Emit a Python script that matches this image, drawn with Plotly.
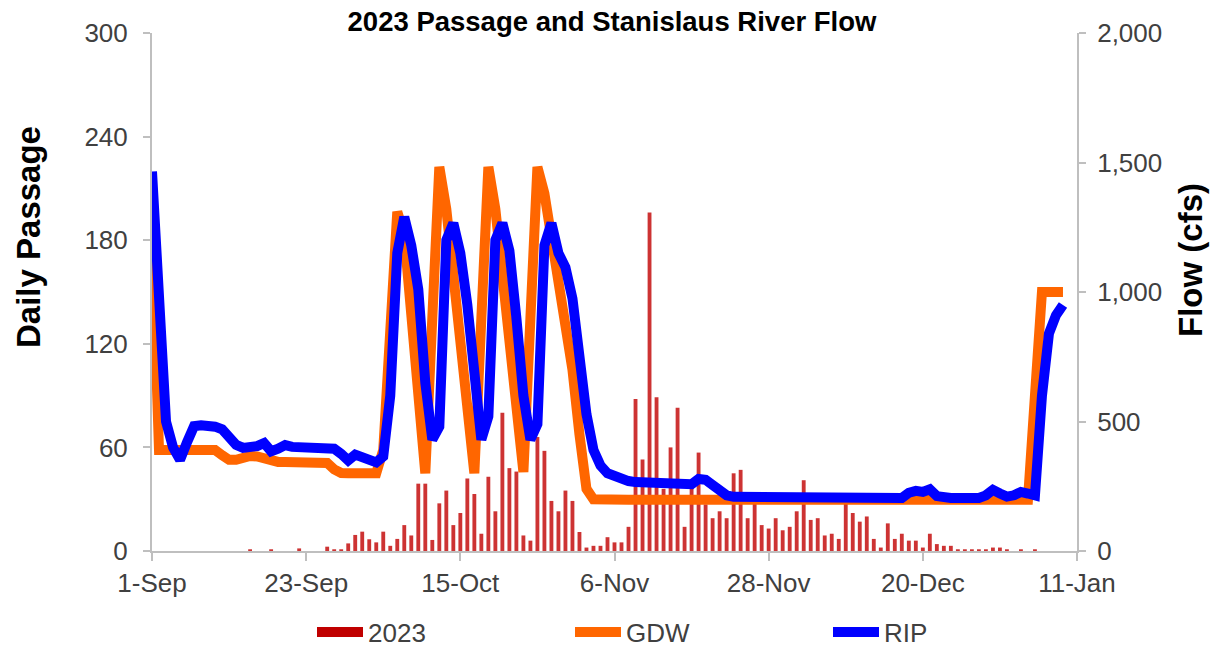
import pandas as pd
import plotly.graph_objects as go

# Daily fish passage (count per day) starting 1-Sep-2023
passage_2023 = [
    0, 0, 0, 0, 0, 0, 0, 0, 0, 0, 0, 0, 0, 0, 1, 0, 0, 1, 0, 0,
    0, 1.5, 0, 0, 0, 2.5, 1, 1, 4.4, 9.3, 11.2, 6.8, 5, 11.2, 3, 7, 15, 9, 39, 39,
    6.4, 27.6, 35, 15, 22, 42, 33, 10, 43, 23, 80, 48, 46, 9, 6, 66, 58, 29, 23, 35,
    29, 11, 2, 3, 3, 8, 5, 5, 14, 88, 53, 196, 89, 36, 60, 83, 14, 37, 57, 27,
    19, 23, 19, 45, 47, 19, 29, 15, 13, 19, 12, 14, 23, 41, 18, 19, 9, 10, 7, 28,
    22, 17, 20, 7, 2, 16, 7, 10, 6, 6, 2, 10, 4, 3, 3, 1, 1, 1, 1, 1,
    2, 2, 1, 0, 1, 0, 1, 0, 0, 0, 0, 0,
]

# Stanislaus River flow at Goodwin Dam (cfs)
gdw_flow = [
    1220, 390, 390, 390, 390, 390, 390, 390, 390, 390, 370, 352, 352, 360, 367, 365, 355, 345, 344, 344,
    344, 344, 344, 344, 344, 340, 315, 301, 300, 300, 300, 300, 300, 390, 850, 1310, 1220, 900, 520, 300,
    900, 1483, 1320, 1060, 780, 500, 300, 900, 1483, 1320, 1060, 780, 500, 305, 900, 1483, 1380, 1200, 1050, 870,
    700, 450, 240, 200, 198, 198, 198, 198, 198, 198, 198, 198, 198, 198, 198, 198, 198, 198, 198, 198,
    198, 198, 198, 198, 198, 198, 198, 198, 198, 198, 198, 198, 198, 198, 198, 198, 198, 198, 198, 198,
    198, 198, 198, 198, 198, 198, 198, 198, 203, 204, 204, 203, 198, 198, 198, 198, 198, 198, 198, 198,
    198, 198, 198, 198, 198, 198, 600, 1000, 1000, 1000, 1000,
]

# Stanislaus River flow at Ripon (cfs)
rip_flow = [
    1465, 890, 500, 400, 352, 420, 482, 485, 485, 480, 470, 440, 410, 398, 400, 405, 417, 385, 395, 409,
    402, 402, 400, 400, 398, 400, 395, 375, 350, 372, 362, 352, 342, 365, 600, 1150, 1290, 1180, 1010, 650,
    430, 480, 1200, 1266, 1150, 950, 650, 430, 520, 1200, 1266, 1160, 900, 600, 430, 490, 1180, 1266, 1150, 1095,
    975, 750, 528, 390, 330, 300, 288, 280, 270, 266, 265, 266, 265, 266, 264, 262, 262, 258, 278, 275,
    255, 235, 215, 209, 209, 209, 209, 209, 208, 208, 208, 207, 207, 207, 206, 206, 206, 206, 205, 205,
    205, 205, 205, 205, 205, 205, 205, 205, 225, 232, 228, 238, 212, 205, 205, 205, 205, 205, 205, 215,
    236, 222, 210, 215, 228, 222, 215, 600, 840, 910, 950,
]

start_date = "2023-09-01"
passage_dates = pd.date_range(start_date, periods=len(passage_2023), freq="D")
flow_dates = pd.date_range(start_date, periods=len(gdw_flow), freq="D")

FONT = "Liberation Sans, Arial, sans-serif"
AXIS_GREY = "#BFBFBF"
TICK_TEXT = "#404040"
BAR_RED = "#C00000"

fig = go.Figure()
fig.add_trace(go.Bar(
    x=passage_dates, y=passage_2023, name="2023",
    marker=dict(color="rgba(192,0,0,0.8)", line=dict(width=0)),
    yaxis="y", showlegend=False, legendgroup="2023",
))
# legend key for the passage bars, drawn as a wide red patch
fig.add_trace(go.Scatter(
    x=[None], y=[None], name="2023", mode="lines",
    line=dict(color=BAR_RED, width=15),
    legendgroup="2023", yaxis="y",
))
fig.add_trace(go.Scatter(
    x=flow_dates, y=gdw_flow, name="GDW", mode="lines",
    line=dict(color="#FF6600", width=10),
    yaxis="y2",
))
fig.add_trace(go.Scatter(
    x=flow_dates, y=rip_flow, name="RIP", mode="lines",
    line=dict(color="#0000FF", width=10),
    yaxis="y2",
))

fig.update_layout(
    width=1225, height=656,
    margin=dict(l=152, r=148, t=33, b=105, autoexpand=False),
    paper_bgcolor="white", plot_bgcolor="white",
    font=dict(family=FONT, size=26, color=TICK_TEXT),
    bargap=0.45,
    showlegend=True,
    title=dict(
        text="<b>2023 Passage and Stanislaus River Flow</b>",
        font=dict(family=FONT, size=27.5, color="black"),
        x=612 / 1225, xanchor="center", xref="container",
        y=(656 - 21) / 656, yanchor="middle", yref="container",
    ),
    xaxis=dict(
        type="date",
        range=["2023-09-01", "2024-01-11"],
        tick0="2023-09-01", dtick=22 * 86400000,
        tickformat="%-d-%b",
        showline=True, linecolor=AXIS_GREY, linewidth=2,
        ticks="outside", ticklen=8, tickcolor=AXIS_GREY, tickwidth=2,
        showgrid=False, zeroline=False,
        tickfont=dict(family=FONT, size=26, color=TICK_TEXT),
    ),
    yaxis=dict(
        range=[0, 300], tick0=0, dtick=60,
        showline=True, linecolor=AXIS_GREY, linewidth=2,
        ticks="outside", ticklen=7, tickcolor=AXIS_GREY, tickwidth=2,
        showgrid=False, zeroline=False,
        tickfont=dict(family=FONT, size=26, color=TICK_TEXT),
        ticklabelstandoff=10,
    ),
    yaxis2=dict(
        range=[0, 2000], tick0=0, dtick=500, tickformat=",",
        overlaying="y", side="right",
        showline=True, linecolor=AXIS_GREY, linewidth=2,
        ticks="outside", ticklen=7, tickcolor=AXIS_GREY, tickwidth=2,
        showgrid=False, zeroline=False,
        tickfont=dict(family=FONT, size=26, color=TICK_TEXT),
        ticklabelstandoff=6,
    ),
    legend=dict(
        orientation="h",
        xref="container", yref="container",
        x=699 / 1225, xanchor="center",
        y=(656 - 632) / 656, yanchor="middle",
        font=dict(family=FONT, size=26, color=TICK_TEXT),
        itemwidth=46,
        entrywidth=197, entrywidthmode="pixels",
        traceorder="normal",
    ),
    annotations=[
        dict(text="<b>Daily Passage</b>", textangle=-90,
             xref="paper", yref="paper", x=(28 - 152) / 925, y=(551 - 237) / 518,
             xanchor="center", yanchor="middle", showarrow=False,
             font=dict(family=FONT, size=33, color="black")),
        dict(text="<b>Flow (cfs)</b>", textangle=-90,
             xref="paper", yref="paper", x=(1190 - 152) / 925, y=(551 - 260) / 518,
             xanchor="center", yanchor="middle", showarrow=False,
             font=dict(family=FONT, size=33, color="black")),
    ],
)

fig.write_html("out.html")
